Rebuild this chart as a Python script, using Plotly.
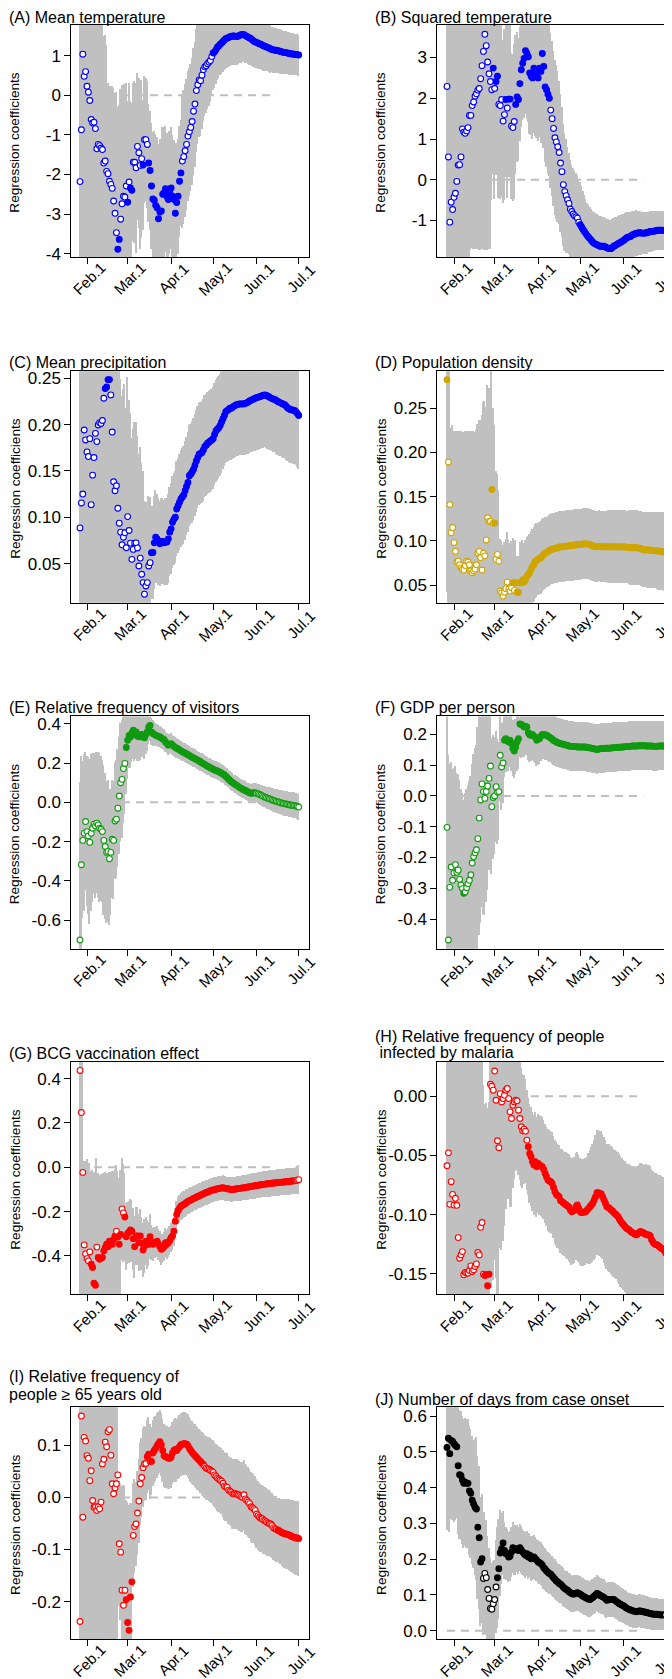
import plotly.graph_objects as go

FIG_W, FIG_H = 672, 1679

# day index: 0 = 27 Jan 2020 ... 156 = 1 Jul 2020
days = list(range(157))
tick_days = [5, 34, 65, 95, 126, 156]
tick_labels = ["Feb.1", "Mar.1", "Apr.1", "May.1", "Jun.1", "Jul.1"]
zero_line_days = [0, 140]

# ---------------- (A) Mean temperature ----------------
A_est = [-2.18, -0.87, 1.04, 0.48, 0.60, 0.23, 0.08, -0.13, -0.61, -0.70,
         -0.68, -0.84, -1.35, -1.24, -1.27, -1.33, -1.37, -1.71, -1.66, -1.92,
         -1.98, -2.17, -2.25, -2.35, -2.67, -2.98, -3.47, -3.89, -3.64, -3.13,
         -2.74, -2.55, -2.57, -2.29, -2.70, -2.19, -2.34, -2.40, -1.69, -1.69,
         -1.83, -1.29, -1.45, -1.77, -1.60, -1.76, -1.12, -1.12, -1.24, -1.71,
         -1.90, -2.29, -2.62, -2.65, -2.78, -2.84, -3.12, -2.95, -2.92, -2.50,
         -2.46, -2.36, -2.56, -2.63, -2.46, -2.34, -2.55, -2.63, -2.98, -2.71,
         -2.55, -2.17, -1.96, -1.66, -1.55, -1.40, -1.24, -1.03, -0.92, -0.81,
         -0.66, -0.40, -0.22, 0.12, 0.27, 0.39, 0.37, 0.51, 0.65, 0.72,
         0.75, 0.80, 0.84, 0.88, 0.98, 1.07, 1.10, 1.15, 1.22, 1.25,
         1.29, 1.32, 1.36, 1.40, 1.43, 1.45, 1.46, 1.48, 1.49, 1.50,
         1.50, 1.49, 1.49, 1.50, 1.52, 1.53, 1.54, 1.53, 1.51, 1.49,
         1.47, 1.45, 1.43, 1.40, 1.37, 1.35, 1.34, 1.32, 1.30, 1.29,
         1.27, 1.25, 1.24, 1.22, 1.21, 1.19, 1.17, 1.16, 1.15, 1.14,
         1.14, 1.13, 1.12, 1.11, 1.10, 1.09, 1.08, 1.08, 1.07, 1.06,
         1.05, 1.05, 1.04, 1.04, 1.03, 1.03, 1.02]
A_hw = [5.5, 5.5, 5.5, 5.5, 5.5, 5.5, 5.5, 5.5, 5.5, 5.5,
        5.5, 4.5, 4.5, 4.5, 4.5, 4.5, 4.5, 3.2, 3.2, 3.2,
        2.3, 2.4, 2.5, 2.6, 2.85, 3.05, 3.55, 3.6, 3.4, 3.3,
        3.0, 2.8, 2.85, 2.6, 2.55, 2.5, 2.2, 2.2, 2.0, 2.05,
        2.15, 1.85, 1.9, 2.1, 2.0, 1.65, 1.6, 1.55, 1.6, 1.5,
        1.5, 1.6, 1.7, 1.75, 1.8, 1.8, 1.9, 1.85, 1.8, 1.7,
        1.65, 1.6, 1.6, 1.6, 1.55, 1.55, 1.55, 1.5, 1.55, 1.5,
        1.45, 1.4, 1.35, 1.7, 1.7, 1.68, 1.66, 1.64, 1.62, 1.6,
        1.6, 1.6, 1.58, 1.55, 1.5, 1.45, 1.4, 1.35, 1.3, 1.25,
        1.2, 1.15, 1.1, 1.05, 1.0, 0.93, 0.9, 0.87, 0.84, 0.8,
        0.78, 0.77, 0.76, 0.76, 0.75, 0.75, 0.74, 0.74, 0.73, 0.73,
        0.72, 0.72, 0.72, 0.71, 0.71, 0.7, 0.7, 0.69, 0.69, 0.68,
        0.68, 0.67, 0.67, 0.66, 0.66, 0.65, 0.64, 0.64, 0.63, 0.63,
        0.62, 0.62, 0.61, 0.61, 0.6, 0.6, 0.6, 0.58, 0.58, 0.57,
        0.57, 0.56, 0.56, 0.56, 0.55, 0.55, 0.55, 0.54, 0.54, 0.54,
        0.53, 0.53, 0.53, 0.52, 0.52, 0.52, 0.52]

# ---------------- (B) Squared temperature ----------------
B_est = [2.29, 0.56, -1.04, -0.55, -0.73, -0.43, -0.33, -0.04, 0.36, 0.37,
         0.56, 1.25, 1.17, 1.14, 1.20, 1.28, 1.58, 1.58, 1.82, 1.91,
         2.05, 2.11, 2.20, 2.24, 2.48, 2.80, 3.15, 3.57, 3.29, 2.89,
         2.60, 2.41, 2.21, 2.74, 2.24, 2.41, 2.54, 1.85, 1.82, 1.97,
         1.44, 1.60, 1.97, 1.76, 1.98, 1.98, 1.32, 1.28, 1.43, 1.85,
         2.03, 1.97, 2.36, 2.70, 2.86, 2.98, 3.17, 3.10, 3.02, 2.62,
         2.54, 2.50, 2.74, 2.62, 2.62, 2.50, 2.74, 2.66, 3.10, 2.78,
         2.28, 2.21, 2.10, 2.00, 1.71, 1.50, 1.26, 1.03, 0.93, 0.81,
         0.67, 0.41, 0.20, -0.12, -0.29, -0.39, -0.49, -0.58, -0.72, -0.78,
         -0.84, -0.88, -0.91, -0.94, -1.04, -1.10, -1.16, -1.22, -1.27, -1.32,
         -1.37, -1.41, -1.45, -1.49, -1.53, -1.56, -1.58, -1.59, -1.61, -1.63,
         -1.63, -1.63, -1.63, -1.65, -1.67, -1.68, -1.69, -1.69, -1.66, -1.63,
         -1.61, -1.59, -1.57, -1.55, -1.53, -1.51, -1.49, -1.46, -1.43, -1.41,
         -1.40, -1.39, -1.36, -1.34, -1.33, -1.31, -1.31, -1.30, -1.30, -1.31,
         -1.31, -1.31, -1.30, -1.30, -1.28, -1.27, -1.27, -1.26, -1.26, -1.25,
         -1.24, -1.24, -1.24, -1.24, -1.24, -1.24, -1.24]
B_hw = [5.0, 5.0, 5.0, 5.0, 5.0, 5.0, 5.0, 5.0, 5.0, 5.0,
        5.0, 3.2, 3.3, 3.3, 3.3, 3.4, 3.5, 3.3, 3.5, 3.6,
        3.75, 3.8, 3.9, 3.95, 4.2, 4.5, 4.85, 5.3, 5.0, 4.6,
        4.3, 4.1, 2.7, 2.6, 2.7, 2.3, 2.4, 2.3, 2.3, 2.4,
        2.0, 2.1, 1.9, 2.2, 1.9, 1.9, 1.8, 1.8, 1.9, 1.7,
        1.6, 1.5, 1.4, 1.4, 1.4, 1.45, 1.55, 1.6, 1.6, 1.5,
        1.45, 1.5, 1.6, 1.55, 1.6, 1.55, 1.7, 1.75, 2.0, 2.0,
        1.85, 1.9, 1.95, 1.9, 1.9, 1.9, 1.9, 1.9, 1.9, 1.85,
        1.75, 1.7, 1.6, 1.5, 1.45, 1.4, 1.3, 1.25, 1.2, 1.15,
        1.12, 1.1, 1.08, 1.06, 1.06, 1.04, 1.0, 0.95, 0.9, 0.85,
        0.8, 0.79, 0.78, 0.78, 0.77, 0.77, 0.76, 0.75, 0.75, 0.74,
        0.74, 0.73, 0.73, 0.72, 0.72, 0.71, 0.71, 0.7, 0.7, 0.7,
        0.69, 0.69, 0.68, 0.68, 0.67, 0.67, 0.66, 0.65, 0.64, 0.63,
        0.62, 0.6, 0.59, 0.58, 0.57, 0.56, 0.55, 0.54, 0.53, 0.53,
        0.52, 0.52, 0.51, 0.51, 0.5, 0.5, 0.5, 0.49, 0.49, 0.48,
        0.48, 0.48, 0.47, 0.47, 0.47, 0.47, 0.47]

# ---------------- (C) Mean precipitation ----------------
C_est = [.0886, .1155, .1251, .1942, .1835, .1706, .1656, .1849, .1137, .1455,
         .1645, .1906, .1817, .1996, .2021, .2013, .2045, .2285, .2389, .2407,
         .2486, .2486, .2321, .1920, .1384, .1287, .1341, .1098, .0937, .0840,
         .0704, .0786, .0833, .0672, .1008, .0858, .0722, .0547, .0654, .0722,
         .0725, .0670, .0475, .0560, .0386, .0296, .0171, .0260, .0296, .0475,
         .0511, .0618, .0620, .0725, .0786, .0768, .0733, .0715, .0740, .0740,
         .0725, .0733, .0733, .0768, .0840, .0876, .0947, .0980, .1001, .1090,
         .1126, .1162, .1198, .1220, .1241, .1287, .1334, .1377, .1448, .1466,
         .1490, .1520, .1563, .1609, .1645, .1681, .1690, .1699, .1727, .1763,
         .1777, .1799, .1810, .1824, .1835, .1849, .1895, .1931, .1950, .1967,
         .1992, .2028, .2064, .2099, .2139, .2150, .2164, .2178, .2178, .2190,
         .2200, .2210, .2217, .2220, .2224, .2224, .2224, .2224, .2230, .2235,
         .2245, .2255, .2264, .2270, .2278, .2285, .2292, .2296, .2300, .2307,
         .2312, .2318, .2321, .2315, .2307, .2298, .2289, .2282, .2275, .2271,
         .2262, .2250, .2243, .2235, .2228, .2220, .2214, .2200, .2182, .2172,
         .2164, .2160, .2156, .2153, .2140, .2120, .2100]
C_hw = [.25, .25, .25, .25, .25, .25, .25, .25, .25, .25,
        .25, .25, .25, .25, .25, .25, .25, .24, .235, .236,
        .244, .244, .24, .22, .2, .19, .19, .18, .17, .165,
        .16, .16, .16, .15, .15, .14, .14, .13, .13, .13,
        .13, .12, .12, .12, .12, .12, .1, .09, .08, .075,
        .07, .05, .05, .05, .05, .048, .047, .046, .046, .046,
        .046, .047, .047, .048, .048, .049, .05, .05, .05, .051,
        .051, .052, .052, .052, .053, .053, .053, .054, .054, .054,
        .055, .055, .055, .055, .055, .055, .055, .055, .055, .055,
        .055, .055, .055, .055, .055, .055, .055, .055, .055, .055,
        .055, .055, .055, .055, .056, .056, .056, .056, .056, .056,
        .056, .056, .056, .056, .056, .056, .056, .056, .056, .056,
        .056, .056, .056, .057, .057, .057, .057, .057, .057, .057,
        .057, .057, .057, .057, .057, .057, .057, .057, .057, .057,
        .058, .058, .058, .058, .058, .058, .058, .058, .058, .058,
        .058, .058, .058, .058, .058, .058, .058]

# ---------------- (D) Population density ----------------
D_est = [.282, .189, .141, .109, .115, .098, .088, .076, .077, .073,
         .0695, .068, .067, .072, .077, .076, .073, .066, .064, .066,
         .068, .073, .086, .088, .081, .067, .086, .083, .101, .126,
         .122, .122, .158, .120, .120, .079, .0846, .077, .0433, .0413,
         .0376, .042, .046, .0534, .0455, .0433, .047, .0526, .044, .0526,
         .042, .042, .0526, .0526, .056, .0534, .056, .060, .062, .064,
         .068, .071, .073, .077, .078, .079, .080, .081, .083, .0846,
         .086, .087, .088, .089, .090, .0905, .091, .0915, .092, .092,
         .093, .0932, .0932, .0932, .0935, .094, .094, .0945, .0947, .0947,
         .0947, .095, .0955, .0959, .0959, .0959, .096, .0966, .0966, .0966,
         .0966, .0962, .0959, .095, .0942, .094, .0935, .0932, .0935, .094,
         .0935, .0932, .0932, .0933, .0933, .0932, .0932, .0932, .0933, .0933,
         .0932, .0932, .0932, .0933, .0932, .0932, .0932, .093, .0928, .0926,
         .0924, .0921, .0921, .0921, .0921, .0921, .0921, .0918, .0914, .0908,
         .090, .0899, .0898, .0897, .0896, .0895, .0893, .0891, .0889, .0888,
         .0887, .0885, .0882, .0879, .0876, .0874, .0872]
D_hw = [.24, .2, .16, .118, .115, .126, .136, .148, .147, .151,
        .154, .155, .156, .152, .147, .148, .15, .158, .16, .158,
        .155, .152, .145, .148, .155, .175, .17, .175, .15, .15,
        .15, .14, .15, .13, .11, .1, .09, .08, .058, .058,
        .057, .056, .056, .056, .055, .054, .052, .05, .05, .048,
        .041, .041, .046, .045, .045, .044, .044, .044, .043, .043,
        .043, .042, .042, .042, .042, .041, .041, .041, .041, .041,
        .041, .04, .04, .04, .04, .04, .04, .04, .04, .04,
        .04, .04, .04, .04, .04, .04, .04, .04, .04, .04,
        .04, .04, .04, .04, .04, .04, .04, .04, .04, .04,
        .04, .04, .04, .04, .04, .04, .04, .04, .04, .04,
        .04, .04, .04, .04, .04, .041, .041, .041, .041, .041,
        .041, .041, .041, .041, .041, .041, .041, .041, .041, .041,
        .042, .042, .042, .042, .042, .042, .042, .042, .042, .042,
        .042, .042, .042, .043, .043, .043, .043, .043, .043, .043,
        .043, .044, .044, .044, .044, .044, .044]

# ---------------- (E) Relative frequency of visitors ----------------
E_est = [-.701, -.318, -.194, -.157, -.098, -.149, -.171, -.204, -.157, -.132,
         -.111, -.12, -.106, -.115, -.132, -.137, -.149, -.194, -.225, -.255,
         -.25, -.287, -.255, -.188, -.194, -.095, -.086, -.03, .032, .10,
         .117, .172, .198, .279, .316, .341, .333, .353, .367, .35,
         .358, .336, .336, .333, .346, .336, .329, .345, .358, .383,
         .392, .358, .35, .346, .341, .338, .336, .333, .328, .322,
         .319, .307, .299, .291, .295, .299, .291, .285, .279, .275,
         .272, .267, .262, .258, .254, .25, .246, .242, .238, .233,
         .229, .226, .222, .218, .215, .21, .205, .201, .197, .193,
         .188, .184, .18, .176, .172, .168, .164, .162, .16, .156,
         .152, .148, .143, .139, .132, .125, .118, .111, .105, .1,
         .094, .09, .085, .08, .075, .071, .067, .063, .06, .056,
         .052, .049, .046, .047, .049, .048, .046, .043, .04, .037,
         .033, .029, .026, .023, .02, .018, .015, .012, .009, .007,
         .005, .003, .001, -.002, -.004, -.006, -.007, -.009, -.01, -.012,
         -.014, -.015, -.016, -.017, -.019, -.021, -.024]
E_hw = [.8, .55, .4, .4, .35, .38, .4, .42, .4, .38,
        .36, .37, .36, .37, .38, .37, .36, .38, .37, .36,
        .36, .34, .32, .3, .3, .3, .3, .3, .3, .3,
        .3, .28, .26, .24, .2, .17, .16, .15, .15, .14,
        .14, .13, .13, .12, .12, .11, .11, .1, .1, .09,
        .08, .07, .065, .06, .058, .056, .055, .055, .054, .054,
        .053, .052, .052, .052, .051, .051, .051, .05, .05, .05,
        .05, .049, .049, .049, .048, .048, .048, .048, .047, .047,
        .047, .047, .046, .046, .046, .046, .046, .046, .045, .045,
        .045, .045, .045, .045, .045, .045, .045, .045, .045, .045,
        .045, .045, .045, .045, .045, .045, .045, .045, .045, .045,
        .045, .045, .045, .045, .045, .046, .046, .046, .046, .046,
        .046, .046, .045, .046, .047, .047, .048, .049, .05, .051,
        .052, .053, .054, .055, .056, .057, .058, .058, .059, .06,
        .06, .061, .061, .062, .062, .063, .063, .063, .064, .064,
        .064, .064, .065, .065, .065, .065, .066]

# ---------------- (F) GDP per person ----------------
F_est = [-.102, -.468, -.297, -.231, -.274, -.25, -.223, -.248, -.241, -.271,
         -.29, -.301, -.316, -.312, -.298, -.285, -.274, -.256, -.218, -.197,
         -.185, -.175, -.139, -.072, -.013, .039, .014, -.008, .014, .032,
         .057, .097, -.035, -.005, 0.0, .03, .012, .014, .132, .094,
         .107, .181, .186, .181, .175, .181, .17, .154, .146, .159,
         .175, .186, .234, .232, .229, .224, .226, .224, .205, .198,
         .197, .2, .194, .191, .181, .184, .186, .194, .2, .2,
         .198, .197, .194, .191, .188, .184, .18, .178, .175, .173,
         .171, .17, .169, .167, .166, .165, .164, .162, .161, .161,
         .161, .16, .16, .159, .159, .159, .159, .159, .159, .159,
         .157, .157, .156, .155, .154, .153, .152, .151, .152, .153,
         .154, .154, .154, .155, .155, .155, .155, .156, .156, .157,
         .157, .157, .158, .158, .158, .159, .159, .16, .16, .16,
         .161, .161, .162, .162, .162, .162, .162, .163, .163, .163,
         .163, .163, .162, .162, .162, .162, .162, .161, .161, .161,
         .161, .162, .162, .162, .162, .162, .162]
F_hw = [.6, .6, .4, .34, .36, .34, .32, .32, .31, .32,
        .31, .31, .3, .32, .32, .32, .32, .32, .32, .33,
        .34, .34, .36, .38, .4, .4, .4, .38, .36, .34,
        .3, .26, .22, .2, .19, .18, .17, .16, .15, .14,
        .13, .12, .11, .1, .095, .09, .09, .09, .09, .09,
        .095, .1, .11, .11, .105, .1, .095, .092, .09, .088,
        .086, .085, .085, .085, .084, .084, .084, .083, .083, .083,
        .082, .082, .082, .082, .081, .081, .081, .081, .08, .08,
        .08, .08, .08, .08, .08, .08, .08, .08, .08, .08,
        .08, .08, .08, .08, .08, .08, .08, .08, .08, .08,
        .08, .08, .08, .08, .08, .08, .08, .08, .08, .08,
        .08, .08, .08, .08, .08, .08, .08, .08, .08, .08,
        .08, .08, .08, .08, .08, .08, .08, .08, .08, .08,
        .08, .08, .08, .08, .08, .08, .08, .08, .08, .08,
        .08, .08, .08, .08, .08, .08, .08, .08, .08, .08,
        .08, .08, .08, .08, .08, .08, .08]

# ---------------- (G) BCG vaccination effect ----------------
G_est = [.437, .247, -.023, -.35, -.39, -.412, -.422, -.382, -.437, -.452,
         -.523, -.532, -.36, -.407, -.415, -.41, -.407, -.377, -.362, -.347,
         -.358, -.333, -.343, -.347, -.325, -.31, -.288, -.315, -.347, -.303,
         -.188, -.206, -.224, -.313, -.298, -.292, -.283, -.288, -.322, -.358,
         -.31, -.31, -.34, -.31, -.343, -.373, -.355, -.333, -.347, -.347,
         -.313, -.34, -.347, -.34, -.338, -.333, -.347, -.358, -.37, -.365,
         -.358, -.34, -.347, -.34, -.33, -.318, -.31, -.288, -.243, -.213,
         -.196, -.185, -.176, -.172, -.168, -.164, -.159, -.154, -.151, -.148,
         -.145, -.141, -.138, -.135, -.132, -.129, -.126, -.123, -.12, -.117,
         -.114, -.112, -.109, -.106, -.104, -.102, -.101, -.099, -.097, -.096,
         -.094, -.093, -.092, -.094, -.095, -.097, -.098, -.099, -.1, -.1,
         -.099, -.098, -.097, -.096, -.095, -.094, -.093, -.092, -.091, -.09,
         -.089, -.088, -.087, -.085, -.084, -.083, -.082, -.081, -.08, -.079,
         -.078, -.077, -.076, -.075, -.074, -.073, -.073, -.072, -.071, -.071,
         -.07, -.069, -.069, -.068, -.067, -.066, -.066, -.065, -.064, -.064,
         -.063, -.062, -.062, -.061, -.06, -.058, -.056]
G_hw = [1.1, .9, .6, .38, .42, .45, .44, .4, .42, .44,
        .5, .5, .4, .38, .38, .38, .37, .35, .34, .32,
        .33, .31, .32, .33, .31, .3, .3, .3, .3, .29,
        .23, .22, .2, .15, .14, .14, .14, .14, .14, .14,
        .13, .13, .13, .12, .12, .12, .12, .11, .11, .1,
        .1, .08, .075, .07, .07, .07, .07, .07, .07, .065,
        .065, .065, .065, .065, .065, .065, .065, .065, .06, .06,
        .06, .06, .06, .06, .059, .059, .059, .058, .058, .058,
        .058, .057, .057, .057, .057, .056, .056, .056, .056, .056,
        .056, .056, .055, .055, .055, .055, .055, .055, .055, .055,
        .055, .055, .055, .055, .055, .055, .055, .055, .055, .055,
        .055, .055, .056, .056, .056, .056, .056, .056, .057, .057,
        .057, .057, .057, .057, .058, .058, .058, .058, .058, .058,
        .058, .058, .059, .059, .059, .059, .059, .059, .059, .059,
        .059, .059, .059, .059, .059, .06, .06, .06, .06, .06,
        .06, .06, .06, .06, .062, .064, .066]

# ---------------- (H) Relative frequency of people infected by malaria ----------------
H_est = [-.0587, -.0478, -.0913, -.0722, -.0829, -.0919, -.0862, -.0921, -.1194, -.1368,
         -.134, -.1312, -.1508, -.1489, -.1494, -.1494, -.1472, -.1433, -.148, -.1466,
         -.1438, -.1416, -.132, -.134, -.1107, -.1067, -.1503, -.1514, -.1508, -.1601,
         -.1503, .0101, .0084, .0051, .0213, -.0034, -.0376, -.0435, .0022, -.0048,
         -.002, .0008, .0051, .0065, -.002, -.0132, -.0188, -.0076, -.0048, -.0034,
         -.0039, -.0118, -.0188, -.0258, -.0292, -.0278, -.0295, -.0371, -.0427, -.0483,
         -.0511, -.0553, -.0581, -.0553, -.0596, -.0567, -.0581, -.059, -.0596, -.0618,
         -.0652, -.068, -.0708, -.0715, -.0722, -.0736, -.077, -.0806, -.0829, -.084,
         -.0848, -.0882, -.089, -.0899, -.091, -.0918, -.0927, -.0938, -.0961, -.0975,
         -.0968, -.0961, -.0933, -.0919, -.0947, -.0975, -.0983, -.098, -.0978, -.0975,
         -.0961, -.0947, -.0933, -.0919, -.0904, -.0876, -.0848, -.0815, -.0815, -.082,
         -.0826, -.0848, -.0876, -.0904, -.0933, -.094, -.0947, -.0961, -.0969, -.0983,
         -.0994, -.1005, -.1017, -.1039, -.1059, -.1073, -.1087, -.1101, -.1115, -.1122,
         -.1129, -.1143, -.115, -.1157, -.1163, -.1171, -.1163, -.1152, -.1143, -.1148,
         -.1152, -.1163, -.1166, -.1171, -.1171, -.118, -.1213, -.1233, -.1247, -.1252,
         -.1256, -.1264, -.1275, -.1285, -.1292, -.1303, -.1326]
H_hw = [.2, .2, .2, .2, .2, .2, .2, .2, .2, .2,
        .2, .2, .2, .2, .2, .2, .2, .2, .2, .2,
        .2, .2, .2, .2, .2, .2, .16, .145, .145, .15,
        .145, .17, .17, .16, .16, .15, .14, .14, .13, .125,
        .12, .11, .1, .09, .085, .08, .075, .07, .065, .06,
        .058, .055, .052, .05, .048, .046, .044, .042, .041, .042,
        .042, .042, .042, .042, .042, .042, .042, .042, .042, .042,
        .042, .042, .043, .043, .043, .043, .043, .044, .044, .044,
        .044, .044, .044, .044, .044, .045, .045, .045, .045, .045,
        .045, .045, .045, .045, .045, .045, .045, .045, .045, .045,
        .045, .047, .048, .049, .05, .051, .052, .053, .053, .053,
        .053, .053, .053, .053, .053, .054, .054, .054, .054, .054,
        .054, .054, .055, .055, .055, .055, .055, .055, .055, .055,
        .056, .056, .056, .056, .057, .057, .057, .057, .058, .058,
        .058, .058, .059, .059, .059, .059, .06, .06, .06, .06,
        .06, .06, .061, .061, .061, .061, .061]

# ---------------- (I) Relative frequency of people >= 65 years old ----------------
I_est = [-.238, .156, -.038, .115, .108, .08, .075, .032, .051, -.006,
         -.019, -.018, -.025, -.018, -.022, -.009, .064, .073, .106, .097,
         .126, .13, .081, .026, .007, .018, .026, .043, -.089, -.105,
         -.178, -.207, -.178, -.196, -.24, -.255, -.191, -.162, -.073, -.056,
         -.051, -.03, -.007, .026, .038, .057, .064, .065, .078, .083,
         .069, .069, .085, .09, .094, .099, .103, .107, .101, .09,
         .08, .078, .077, .075, .075, .077, .085, .09, .092, .09,
         .094, .097, .101, .102, .103, .103, .102, .099, .094, .09,
         .086, .083, .08, .077, .074, .071, .069, .065, .063, .059,
         .056, .055, .054, .052, .05, .048, .043, .04, .037, .035,
         .033, .031, .027, .022, .02, .019, .014, .012, .01, .007,
         .007, .007, .006, .005, .003, .001, 0.0, .005, -.003, -.006,
         -.009, -.012, -.018, -.02, -.022, -.025, -.032, -.035, -.038, -.04,
         -.041, -.044, -.045, -.047, -.049, -.05, -.051, -.054, -.058, -.06,
         -.061, -.063, -.064, -.066, -.068, -.068, -.07, -.07, -.071, -.072,
         -.073, -.075, -.076, -.077, -.078, -.078, -.079]
I_hw = [.45, .45, .45, .45, .45, .45, .45, .45, .45, .45,
        .45, .45, .45, .45, .45, .45, .45, .45, .45, .45,
        .45, .45, .45, .45, .45, .45, .45, .45, .12, .13,
        .2, .23, .2, .19, .23, .24, .18, .15, .1, .09,
        .08, .08, .08, .08, .075, .075, .072, .07, .07, .07,
        .072, .065, .064, .063, .062, .062, .061, .061, .06, .06,
        .06, .06, .06, .06, .06, .06, .06, .06, .06, .06,
        .06, .06, .06, .06, .06, .06, .06, .06, .06, .06,
        .06, .06, .06, .06, .06, .06, .06, .06, .06, .06,
        .061, .061, .061, .062, .062, .062, .062, .063, .063, .063,
        .064, .064, .064, .065, .065, .065, .066, .066, .066, .067,
        .067, .067, .067, .067, .067, .067, .067, .067, .067, .067,
        .067, .067, .067, .067, .066, .066, .066, .066, .065, .065,
        .065, .065, .064, .064, .064, .063, .063, .063, .063, .063,
        .063, .062, .062, .063, .064, .065, .066, .067, .067, .068,
        .068, .069, .07, .07, .071, .071, .072]

# ---------------- (J) Number of days from case onset ----------------
J_est = [.512, .538, .495, .532, .529, .523, .518, .514, .461, .436,
         .433, .421, .412, .415, .412, .412, .391, .384, .365, .354,
         .345, .34, .289, .26, .192, .201, .146, .16, .148, .115,
         .09, .062, .06, .075, .087, .122, .148, .173, .217, .229,
         .245, .224, .215, .215, .206, .208, .22, .232, .226, .226,
         .229, .224, .232, .226, .22, .215, .211, .215, .206, .211,
         .201, .203, .206, .201, .197, .192, .19, .187, .183, .176,
         .172, .167, .163, .16, .158, .153, .148, .144, .139, .136,
         .132, .13, .126, .121, .118, .115, .113, .109, .106, .104,
         .102, .103, .105, .106, .104, .102, .099, .096, .094, .092,
         .09, .088, .087, .09, .093, .096, .1, .104, .102, .099,
         .097, .095, .093, .089, .085, .086, .087, .087, .087, .087,
         .084, .081, .078, .075, .073, .071, .069, .066, .063, .061,
         .059, .058, .056, .055, .054, .053, .054, .055, .055, .054,
         .053, .052, .051, .05, .049, .048, .047, .046, .046, .046,
         .046, .045, .044, .044, .044, .044, .044]
J_hw = [.232, .23, .22, .22, .22, .22, .21, .2, .19, .18,
        .18, .18, .18, .18, .18, .18, .18, .18, .18, .18,
        .19, .2, .2, .2, .18, .18, .16, .17, .16, .15,
        .14, .14, .13, .12, .11, .13, .14, .14, .12, .1,
        .09, .08, .075, .07, .07, .07, .07, .07, .07, .07,
        .065, .065, .065, .065, .065, .064, .064, .063, .063, .062,
        .062, .061, .061, .06, .06, .06, .06, .06, .06, .06,
        .058, .058, .057, .057, .056, .056, .055, .055, .054, .054,
        .054, .053, .053, .053, .052, .052, .052, .052, .051, .051,
        .051, .051, .05, .05, .05, .05, .05, .05, .05, .05,
        .05, .05, .05, .05, .05, .05, .05, .05, .05, .05,
        .05, .05, .05, .05, .049, .049, .049, .049, .049, .049,
        .049, .049, .048, .048, .048, .048, .048, .048, .048, .047,
        .047, .047, .047, .047, .047, .047, .046, .046, .046, .046,
        .046, .046, .046, .046, .045, .045, .045, .045, .045, .045,
        .045, .044, .043, .043, .043, .043, .046]

BLUE, GOLD, GREEN, RED, BLACK = "#0000FF", "#CFA600", "#109A10", "#FF0000", "#000000"
BAR_GREY = "#C0C0C0"
LINE_GREY = "#BEBEBE"

panels = [
    dict(title=["(A) Mean temperature"], est=A_est, hw=A_hw, color=BLUE,
         yrange=[-4.084, 1.78], yt=[-4, -3, -2, -1, 0, 1], ytt=["-4", "-3", "-2", "-1", "0", "1"]),
    dict(title=["(B) Squared temperature"], est=B_est, hw=B_hw, color=BLUE,
         yrange=[-1.894, 3.80], yt=[-1, 0, 1, 2, 3], ytt=["-1", "0", "1", "2", "3"]),
    dict(title=["(C) Mean precipitation"], est=C_est, hw=C_hw, color=BLUE,
         yrange=[0.0078, 0.2575], yt=[0.05, 0.10, 0.15, 0.20, 0.25],
         ytt=["0.05", "0.10", "0.15", "0.20", "0.25"]),
    dict(title=["(D) Population density"], est=D_est, hw=D_hw, color=GOLD,
         yrange=[0.030, 0.2914], yt=[0.05, 0.10, 0.15, 0.20, 0.25],
         ytt=["0.05", "0.10", "0.15", "0.20", "0.25"]),
    dict(title=["(E) Relative frequency of visitors"], est=E_est, hw=E_hw, color=GREEN,
         yrange=[-0.745, 0.437], yt=[-0.6, -0.4, -0.2, 0.0, 0.2, 0.4],
         ytt=["-0.6", "-0.4", "-0.2", "0.0", "0.2", "0.4"]),
    dict(title=["(F) GDP per person"], est=F_est, hw=F_hw, color=GREEN,
         yrange=[-0.496, 0.258], yt=[-0.4, -0.3, -0.2, -0.1, 0.0, 0.1, 0.2],
         ytt=["-0.4", "-0.3", "-0.2", "-0.1", "0.0", "0.1", "0.2"]),
    dict(title=["(G) BCG vaccination effect"], est=G_est, hw=G_hw, color=RED,
         yrange=[-0.572, 0.475], yt=[-0.4, -0.2, 0.0, 0.2, 0.4],
         ytt=["-0.4", "-0.2", "0.0", "0.2", "0.4"]),
    dict(title=["(H) Relative frequency of people", " infected by malaria"], est=H_est, hw=H_hw, color=RED,
         yrange=[-0.1671, 0.0289], yt=[-0.15, -0.10, -0.05, 0.00],
         ytt=["-0.15", "-0.10", "-0.05", "0.00"]),
    dict(title=["(I) Relative frequency of", "people \u2265 65 years old"], est=I_est, hw=I_hw, color=RED,
         yrange=[-0.272, 0.173], yt=[-0.2, -0.1, 0.0, 0.1],
         ytt=["-0.2", "-0.1", "0.0", "0.1"]),
    dict(title=["(J) Number of days from case onset"], est=J_est, hw=J_hw, color=BLACK,
         yrange=[-0.024, 0.625], yt=[0.0, 0.1, 0.2, 0.3, 0.4, 0.5, 0.6],
         ytt=["0.0", "0.1", "0.2", "0.3", "0.4", "0.5", "0.6"]),
]

# ---- geometry in pixels ----
col_left = [63.3, 429.3]
col_right = [300.8, 670.3]
col_xrange = [[-6.2, 163.2], [-6.91, 164.99]]
row_top = [15.0, 363.3, 710.3, 1057.7, 1404.7]
row_bot = [248.3, 596.0, 943.7, 1291.0, 1638.0]
title_x = [-1.0, 365.0]
title_baselines = {0: [12.6], 1: [12.6], 2: [360.0], 3: [360.0], 4: [707.0], 5: [707.0],
                   6: [1054.3], 7: [1037.7, 1053.3], 8: [1379.7, 1397.0], 9: [1402.0]}

FONT = "Liberation Sans, Arial, Helvetica, sans-serif"
TITLE_SIZE = 16
YTICK_SIZE = 17
XTICK_SIZE = 15
YLAB_SIZE = 13.6


def px_x(p):
    return p / FIG_W


def px_y(p):
    return 1 - p / FIG_H


fig = go.Figure()
annotations = []
shapes = []
layout_axes = {}

for k, P in enumerate(panels):
    r, c = k // 2, k % 2
    n = k + 1
    xa = "x" if n == 1 else f"x{n}"
    ya = "y" if n == 1 else f"y{n}"
    est, hw, col = P["est"], P["hw"], P["color"]
    lo = [e - h for e, h in zip(est, hw)]
    span = [2 * h for h in hw]
    fills = [col if (e - h > 0 or e + h < 0) else "white" for e, h in zip(est, hw)]

    fig.add_trace(go.Bar(x=days, y=span, base=lo, width=0.82, marker=dict(color=BAR_GREY, line=dict(width=0)),
                         xaxis=xa, yaxis=ya, showlegend=False, hoverinfo="skip"))
    fig.add_trace(go.Scatter(x=days, y=est, mode="markers",
                             marker=dict(size=5.8, color=fills, line=dict(color=col, width=1.1)),
                             xaxis=xa, yaxis=ya, showlegend=False, hoverinfo="skip", cliponaxis=False))

    shapes.append(dict(type="line", xref=xa, yref=ya, x0=zero_line_days[0], x1=zero_line_days[1], y0=0, y1=0,
                       layer="below", line=dict(color=LINE_GREY, width=2, dash="8px,6px")))

    xkey = "xaxis" if n == 1 else f"xaxis{n}"
    ykey = "yaxis" if n == 1 else f"yaxis{n}"
    layout_axes[xkey] = dict(domain=[px_x(col_left[c]), px_x(col_right[c])], range=col_xrange[c], anchor=ya,
                             tickvals=tick_days, showticklabels=False, ticks="outside", ticklen=6, tickwidth=1,
                             tickcolor="black", showline=True, mirror=True, linecolor="black", linewidth=1,
                             showgrid=False, zeroline=False, fixedrange=True)
    layout_axes[ykey] = dict(domain=[px_y(row_bot[r]), px_y(row_top[r])], range=P["yrange"], anchor=xa,
                             tickvals=P["yt"], ticktext=P["ytt"], ticks="outside", ticklen=6, tickwidth=1,
                             tickcolor="black", tickfont=dict(size=YTICK_SIZE, color="black", family=FONT),
                             showline=True, mirror=True, linecolor="black", linewidth=1,
                             showgrid=False, zeroline=False, fixedrange=True)

    # rotated date labels, centred below each tick
    for td, tl in zip(tick_days, tick_labels):
        annotations.append(dict(x=td + 1.5, xref=xa, y=px_y(row_bot[r] + 21.5), yref="paper", text=tl,
                                textangle=-45, showarrow=False, xanchor="center", yanchor="middle",
                                borderpad=0, font=dict(size=XTICK_SIZE, color="black", family=FONT)))
    # y-axis title
    annotations.append(dict(x=px_x(col_left[c] - 56.6), xref="paper", y=px_y((row_top[r] + row_bot[r]) / 2 + 2),
                            yref="paper", text="Regression coefficients", textangle=-90, showarrow=False,
                            xanchor="center", yanchor="middle",
                            font=dict(size=YLAB_SIZE, color="black", family=FONT)))
    # panel title (one annotation per line)
    for line_text, base in zip(P["title"], title_baselines[k]):
        annotations.append(dict(x=px_x(title_x[c]), xref="paper", y=px_y(base - 0.34 * TITLE_SIZE), yref="paper",
                                text=line_text.replace(" ", "&nbsp;", 1) if line_text.startswith(" ") else line_text,
                                showarrow=False, xanchor="left", yanchor="middle",
                                font=dict(size=TITLE_SIZE, color="black", family=FONT)))

fig.update_layout(width=FIG_W, height=FIG_H, margin=dict(l=0, r=0, t=0, b=0, pad=0),
                  paper_bgcolor="white", plot_bgcolor="white", barmode="overlay", bargap=0,
                  annotations=annotations, shapes=shapes, showlegend=False,
                  font=dict(family=FONT, color="black"), **layout_axes)

fig.write_html("out.html")
